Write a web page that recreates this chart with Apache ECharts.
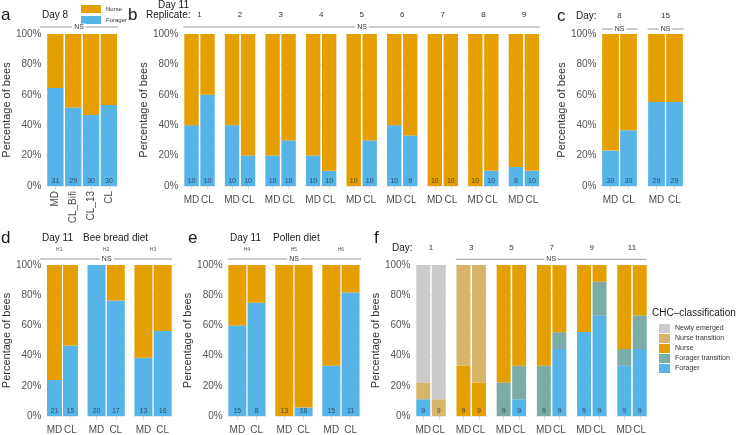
<!DOCTYPE html>
<html>
<head>
<meta charset="utf-8">
<script src="https://cdn.jsdelivr.net/npm/echarts@6/dist/echarts.min.js"></script>
<style>
  html, body { margin: 0; padding: 0; background: #fff; }
  #chart { width: 736px; height: 435px; }
</style>
</head>
<body>
<div id="chart"></div>
<script>
// ---- data (percentage of foragers etc., n per bar) ----
const aGroups = ['MD', 'CL_Bifi', 'CL_13', 'CL'];
const aForager = [64.5, 51.7, 46.7, 53.3];
const aCounts = [31, 29, 30, 30];

const bReplicates = ['1', '2', '3', '4', '5', '6', '7', '8', '9'];
const bForagerMD = [40, 40, 20, 20, 0, 40, 0, 0, 12.5];
const bForagerCL = [60, 20, 30, 10, 30, 33.3, 0, 10, 10];
const bCountsMD = [10, 10, 10, 10, 10, 10, 10, 10, 8];
const bCountsCL = [10, 10, 10, 10, 10, 9, 10, 10, 10];

const cDays = ['8', '15'];
const cForagerMD = [23.3, 55.2];
const cForagerCL = [36.7, 55.2];
const cCountsMD = [30, 29];
const cCountsCL = [30, 29];

const dHives = ['H1', 'H2', 'H3'];
const dForagerMD = [23.8, 100, 38.5];
const dForagerCL = [46.7, 76.5, 56.3];
const dCountsMD = [21, 20, 13];
const dCountsCL = [15, 17, 16];

const eHives = ['H4', 'H5', 'H6'];
const eForagerMD = [60, 0, 33.3];
const eForagerCL = [75, 5.6, 81.8];
const eCountsMD = [15, 13, 15];
const eCountsCL = [8, 18, 11];

const fDays = ['1', '3', '5', '7', '9', '11'];
const fForagerMD   = [11.1, 0, 0, 0, 55.6, 33.3];
const fForagerTrMD = [0, 0, 22.2, 33.3, 0, 11.1];
const fNurseMD     = [0, 33.3, 77.8, 66.7, 44.4, 55.6];
const fNurseTrMD   = [11.1, 66.7, 0, 0, 0, 0];
const fNewlyMD     = [77.8, 0, 0, 0, 0, 0];
const fForagerCL   = [0, 0, 11.1, 44.4, 66.7, 44.4];
const fForagerTrCL = [0, 0, 22.2, 11.1, 22.2, 22.2];
const fNurseCL     = [0, 22.2, 66.7, 44.4, 11.1, 33.3];
const fNurseTrCL   = [11.1, 77.8, 0, 0, 0, 0];
const fNewlyCL     = [88.9, 0, 0, 0, 0, 0];
const fCountsMD = [9, 9, 9, 9, 9, 9];
const fCountsCL = [9, 9, 9, 9, 9, 9];

const fClasses = ['Newly emerged', 'Nurse transition', 'Nurse', 'Forager transition', 'Forager'];

// ---- styling ----
const FAM = '"Liberation Sans", Arial, sans-serif';
const COL = {
  'Forager': '#56B4E9',
  'Forager transition': '#7AACA8',
  'Nurse': '#E69F00',
  'Nurse transition': '#D8B36A',
  'Newly emerged': '#CBCBCB'
};

const grid = [], xAxis = [], yAxis = [], series = [], graphic = [];

function facet(box, cats, stacks, counts, opt) {
  const i = grid.length;
  grid.push({ left: box.left, top: box.top, width: box.width, height: box.height });
  xAxis.push({
    gridIndex: i, type: 'category', data: cats,
    axisLine: { show: false },
    axisTick: { show: true, alignWithLabel: true, length: 3, lineStyle: { color: '#d6d6d6' } },
    axisLabel: { fontSize: 10, color: '#4d4d4d', fontFamily: FAM, margin: opt.labelMargin || 9, rotate: opt.rotate || 0, interval: 0 }
  });
  yAxis.push({
    gridIndex: i, type: 'value', min: 0, max: 100, interval: 20,
    axisLine: { show: false }, axisTick: { show: false },
    axisLabel: { show: !!opt.first, formatter: '{value}%', fontSize: 10, color: '#555', fontFamily: FAM, margin: 5 },
    name: opt.first ? 'Percentage of bees' : '',
    nameLocation: 'middle', nameGap: 31,
    nameTextStyle: { fontSize: 11, color: '#333', fontFamily: FAM },
    splitLine: { lineStyle: { color: '#e8e8e8' } },
    minorTick: { show: false, splitNumber: 2 },
    minorSplitLine: { show: true, lineStyle: { color: '#f3f3f3' } }
  });
  stacks.forEach(s => series.push({
    type: 'bar', name: s.name, xAxisIndex: i, yAxisIndex: i, stack: 'st' + i,
    data: s.data, barCategoryGap: opt.gap, itemStyle: { color: COL[s.name] }, silent: true
  }));
  series.push({
    type: 'scatter', xAxisIndex: i, yAxisIndex: i, data: counts.map(() => 0),
    symbolSize: 1, itemStyle: { color: 'rgba(0,0,0,0)' }, silent: true, z: 5,
    label: { show: true, position: 'top', distance: 1, formatter: p => counts[p.dataIndex],
             fontSize: 7, color: '#1f2d3d', fontFamily: FAM }
  });
}

function txt(x, y, s, size, align, color) {
  graphic.push({ type: 'text', x: x, y: y, z: 10, silent: true,
    style: { text: s, fontSize: size, fontFamily: FAM, fill: color || '#1a1a1a', align: align || 'left', verticalAlign: 'middle' } });
}
function nsLine(x1, x2, y, xt) {
  graphic.push({ type: 'line', z: 9, silent: true, shape: { x1: x1, y1: y, x2: x2, y2: y }, style: { stroke: '#9a9a9a', lineWidth: 1 } });
  graphic.push({ type: 'text', x: xt, y: y, z: 10, silent: true,
    style: { text: 'NS', fontSize: 7, fontFamily: FAM, fill: '#333', align: 'center', verticalAlign: 'middle', backgroundColor: '#fff', padding: [0, 2] } });
}
const pair = (md, cl) => [md, cl];

// ---- panel a ----
facet({ left: 39.8, top: 34, width: 78, height: 152 }, aGroups,
  [{ name: 'Forager', data: aForager }, { name: 'Nurse', data: aForager.map(v => 100 - v) }],
  aCounts, { first: true, gap: '8%', rotate: 90, labelMargin: 5 });
txt(1, 15, 'a', 17);
txt(42, 15, 'Day 8', 10);
nsLine(40, 118, 27, 79);

// ---- panel b ----
bReplicates.forEach((r, i) => {
  const left = 183.5 + i * 40.55;
  facet({ left: left, top: 34, width: 32, height: 152 }, ['MD', 'CL'],
    [{ name: 'Forager', data: pair(bForagerMD[i], bForagerCL[i]) },
     { name: 'Nurse', data: pair(100 - bForagerMD[i], 100 - bForagerCL[i]) }],
    pair(bCountsMD[i], bCountsCL[i]), { first: i === 0, gap: '10%' });
  txt(left + 16, 15, r, 8, 'center', '#333');
});
txt(128, 15, 'b', 17);
txt(158, 5, 'Day 11', 10);
txt(146, 15.5, 'Replicate:', 10);
nsLine(183.5, 539.5, 27, 362);

// ---- panel c ----
cDays.forEach((d, i) => {
  const left = 601.5 + i * 46;
  facet({ left: left, top: 34, width: 36, height: 152 }, ['MD', 'CL'],
    [{ name: 'Forager', data: pair(cForagerMD[i], cForagerCL[i]) },
     { name: 'Nurse', data: pair(100 - cForagerMD[i], 100 - cForagerCL[i]) }],
    pair(cCountsMD[i], cCountsCL[i]), { first: i === 0, gap: '7%' });
  txt(left + 18, 15.7, d, 8, 'center', '#333');
  nsLine(left, left + 36, 29, left + 18);
});
txt(557, 16, 'c', 17);
txt(576, 16, 'Day:', 10);

// ---- panel d ----
dHives.forEach((h, i) => {
  const left = 40 + i * 46.9;
  facet({ left: left, top: 265, width: 38.5, height: 151 }, ['MD', 'CL'],
    [{ name: 'Forager', data: pair(dForagerMD[i], dForagerCL[i]) },
     { name: 'Nurse', data: pair(100 - dForagerMD[i], 100 - dForagerCL[i]) }],
    pair(dCountsMD[i], dCountsCL[i]), { first: i === 0, gap: '6.5%' });
  txt(left + 19.25, 250, h, 5, 'center', '#555');
});
txt(1, 238, 'd', 17);
txt(42, 238, 'Day 11', 10);
txt(83, 238, 'Bee bread diet', 10);
nsLine(40, 172, 259, 106.7);

// ---- panel e ----
eHives.forEach((h, i) => {
  const left = 227.7 + i * 47;
  facet({ left: left, top: 265, width: 38.5, height: 151 }, ['MD', 'CL'],
    [{ name: 'Forager', data: pair(eForagerMD[i], eForagerCL[i]) },
     { name: 'Nurse', data: pair(100 - eForagerMD[i], 100 - eForagerCL[i]) }],
    pair(eCountsMD[i], eCountsCL[i]), { first: i === 0, gap: '6.5%' });
  txt(left + 19.25, 250, h, 5, 'center', '#555');
});
txt(188, 238, 'e', 17);
txt(230, 238, 'Day 11', 10);
txt(273, 238, 'Pollen diet', 10);
nsLine(227.7, 361, 259, 294);

// ---- panel f ----
fDays.forEach((d, i) => {
  const left = 415.5 + i * 40.2;
  facet({ left: left, top: 265, width: 31, height: 151 }, ['MD', 'CL'],
    [{ name: 'Forager', data: pair(fForagerMD[i], fForagerCL[i]) },
     { name: 'Forager transition', data: pair(fForagerTrMD[i], fForagerTrCL[i]) },
     { name: 'Nurse', data: pair(fNurseMD[i], fNurseCL[i]) },
     { name: 'Nurse transition', data: pair(fNurseTrMD[i], fNurseTrCL[i]) },
     { name: 'Newly emerged', data: pair(fNewlyMD[i], fNewlyCL[i]) }],
    pair(fCountsMD[i], fCountsCL[i]), { first: i === 0, gap: '10%' });
  txt(left + 15.5, 248, d, 8, 'center', '#333');
});
txt(374, 238, 'f', 17);
txt(392, 248, 'Day:', 10);
nsLine(455.7, 646.7, 259.3, 551.2);
txt(652, 313, 'CHC\u2013classification', 10);

const chart = echarts.init(document.getElementById('chart'), null, { renderer: 'canvas' });
chart.setOption({
  animation: false,
  backgroundColor: '#fff',
  textStyle: { fontFamily: FAM },
  grid: grid,
  xAxis: xAxis,
  yAxis: yAxis,
  series: series,
  graphic: graphic,
  legend: [
    {
      data: ['Nurse', 'Forager'], orient: 'vertical', left: 76, top: 0,
      itemWidth: 20, itemHeight: 8, itemGap: 3, icon: 'rect', selectedMode: false,
      textStyle: { fontSize: 6, color: '#333', fontFamily: FAM }
    },
    {
      data: fClasses, orient: 'vertical', left: 654, top: 319,
      itemWidth: 11, itemHeight: 9, itemGap: 1, icon: 'rect', selectedMode: false,
      textStyle: { fontSize: 7, color: '#333', fontFamily: FAM }
    }
  ]
});
</script>
</body>
</html>
